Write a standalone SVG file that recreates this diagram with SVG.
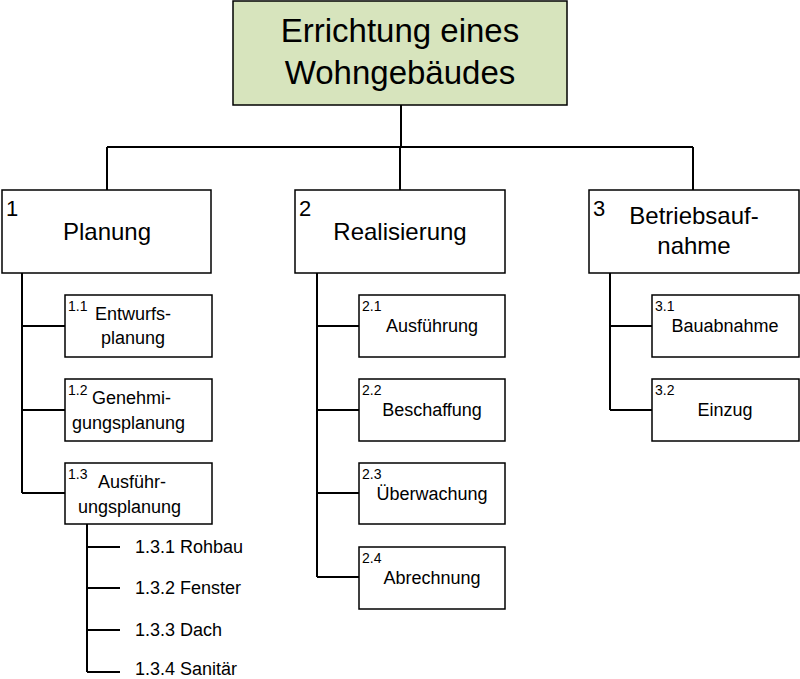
<svg xmlns="http://www.w3.org/2000/svg" width="800" height="679" viewBox="0 0 800 679">
<style>
text{font-family:"Liberation Sans",Arial,sans-serif;fill:#000}
.b{fill:#fff;stroke:#000;stroke-width:1.5}
.c{fill:none;stroke:#000;stroke-width:2}
.t{font-size:24px;text-anchor:middle}
.s{font-size:18px;text-anchor:middle}
.n{font-size:14px}
.l{font-size:18px}
</style>
<rect width="800" height="679" fill="#fff"/>
<g id="connectors">
<path class="c" d="M401 105V147M107 147H693M107 147V190M400 147V190M693 147V190"/>
<path class="c" d="M22 273V493M22 326H65M22 410H65M22 493H65"/>
<path class="c" d="M317 273V577M317 326H359M317 410H359M317 493H359M317 577H359"/>
<path class="c" d="M610 273V410M610 326H652M610 410H652"/>
<path class="c" d="M87 524V672M87 547H120M87 588H120M87 630H120M87 672H120"/>
</g>
<g id="root"><rect x="233" y="1" width="334" height="104" fill="#d7e4bd" stroke="#000" stroke-width="1.5"/>
<text x="400" y="42" font-size="33" text-anchor="middle">Errichtung eines</text>
<text x="400" y="84" font-size="33" text-anchor="middle">Wohngebäudes</text></g>
<g id="n1"><rect class="b" x="2" y="190" width="209" height="83"/><text x="6" y="216" font-size="22">1</text><text class="t" x="107" y="240">Planung</text></g>
<g id="n2"><rect class="b" x="295" y="190" width="210" height="83"/><text x="299" y="216" font-size="22">2</text><text class="t" x="400" y="240">Realisierung</text></g>
<g id="n3"><rect class="b" x="589" y="190" width="210" height="83"/><text x="593" y="216" font-size="22">3</text><text class="t" x="694" y="224">Betriebsauf-</text><text class="t" x="694" y="254">nahme</text></g>
<g id="n11"><rect class="b" x="65" y="295" width="147" height="62"/><text class="n" x="68" y="311">1.1</text><text class="l" x="95" y="320">Entwurfs-</text><text class="l" x="101" y="344">planung</text></g>
<g id="n12"><rect class="b" x="65" y="379" width="147" height="62"/><text class="n" x="68" y="395">1.2</text><text class="l" x="92" y="404">Genehmi-</text><text class="l" x="72" y="429">gungsplanung</text></g>
<g id="n13"><rect class="b" x="65" y="463" width="147" height="61"/><text class="n" x="68" y="479">1.3</text><text class="l" x="98" y="488">Ausführ-</text><text class="l" x="78" y="513">ungsplanung</text></g>
<g id="n131"><text class="l" x="135" y="553">1.3.1 Rohbau</text></g>
<g id="n132"><text class="l" x="135" y="594">1.3.2 Fenster</text></g>
<g id="n133"><text class="l" x="135" y="636">1.3.3 Dach</text></g>
<g id="n134"><text class="l" x="135" y="675">1.3.4 Sanitär</text></g>
<g id="n21"><rect class="b" x="359" y="295" width="146" height="62"/><text class="n" x="362" y="311">2.1</text><text class="s" x="432" y="332">Ausführung</text></g>
<g id="n22"><rect class="b" x="359" y="379" width="146" height="62"/><text class="n" x="362" y="395">2.2</text><text class="s" x="432" y="416">Beschaffung</text></g>
<g id="n23"><rect class="b" x="359" y="463" width="146" height="61"/><text class="n" x="362" y="479">2.3</text><text class="s" x="432" y="500">Überwachung</text></g>
<g id="n24"><rect class="b" x="359" y="547" width="146" height="62"/><text class="n" x="362" y="563">2.4</text><text class="s" x="432" y="584">Abrechnung</text></g>
<g id="n31"><rect class="b" x="652" y="295" width="147" height="62"/><text class="n" x="655" y="311">3.1</text><text class="s" x="725" y="332">Bauabnahme</text></g>
<g id="n32"><rect class="b" x="652" y="379" width="147" height="62"/><text class="n" x="655" y="395">3.2</text><text class="s" x="725" y="416">Einzug</text></g>
</svg>
